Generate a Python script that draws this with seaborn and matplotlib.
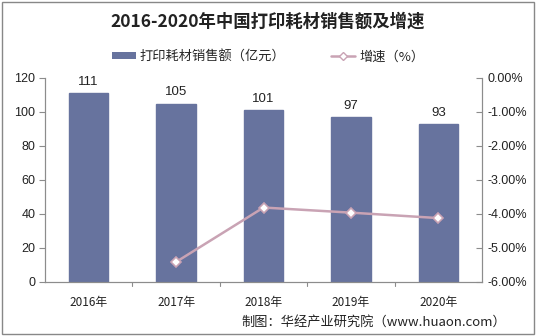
import matplotlib
matplotlib.use("Agg")
import matplotlib.pyplot as plt
import seaborn as sns
import pandas as pd
from matplotlib.lines import Line2D
from matplotlib.patches import Patch, Rectangle
from matplotlib.ticker import FuncFormatter

years = ["2016年", "2017年", "2018年", "2019年", "2020年"]
sales = [111, 105, 101, 97, 93]
growth_years = ["2017年", "2018年", "2019年", "2020年"]
growth = [-5.41, -3.81, -3.96, -4.12]

sns.set_theme(style="white")
plt.rcParams['font.family'] = ['Noto Sans CJK SC', 'DejaVu Sans']

bar_color = "#67739E"
line_color = "#C9A3B4"
axis_color = "#8C8C8C"

fig = plt.figure(figsize=(5.36, 3.36), dpi=100)
ax = fig.add_axes([45/536, 1-282/336, 437/536, 204/336])

df = pd.DataFrame({"year": years, "sales": sales})
sns.barplot(data=df, x="year", y="sales", color=bar_color, width=0.45,
            saturation=1, edgecolor=bar_color, ax=ax)
ax.set_ylim(0, 120)
ax.set_yticks(range(0, 121, 20))
ax.set_xlim(-0.5, 4.5)
ax.set_xlabel("")
ax.set_ylabel("")
for i, v in enumerate(sales):
    ax.text(i, v + 3, str(v), ha="center", va="bottom", fontsize=9.5,
            family=["Liberation Sans", "DejaVu Sans"], color="#222222")

ax2 = ax.twinx()
xpos = [years.index(y) for y in growth_years]
gdf = pd.DataFrame({"x": xpos, "g": growth})
sns.lineplot(data=gdf, x="x", y="g", color=line_color, linewidth=1.8,
             marker="D", markersize=5.5, markerfacecolor="white",
             markeredgecolor=line_color, markeredgewidth=1.2, ax=ax2)
ax2.set_ylim(-6, 0)
ax2.set_yticks([0, -1, -2, -3, -4, -5, -6])
ax2.yaxis.set_major_formatter(FuncFormatter(lambda v, p: f"{v:.2f}%"))
ax2.set_xlim(-0.5, 4.5)
ax2.set_xlabel("")
ax2.set_ylabel("")

for a in (ax, ax2):
    for s in a.spines.values():
        s.set_color(axis_color)
        s.set_linewidth(0.8)
    a.spines["top"].set_visible(False)

tick_font = ["Liberation Sans", "DejaVu Sans"]
ax.tick_params(axis="y", left=True, direction="out", length=4, width=0.8,
               color=axis_color, labelsize=9, labelcolor="#222222", pad=3)
ax.tick_params(axis="x", bottom=False, labelsize=8.5, labelcolor="#222222", pad=4)
for lab in ax.get_yticklabels():
    lab.set_family(tick_font)
for b in [0.5, 1.5, 2.5, 3.5]:
    ax.plot([b, b], [0, -2.5], color=axis_color, lw=0.8, clip_on=False)
ax2.tick_params(axis="y", right=True, direction="in", length=4, width=0.8,
                color=axis_color, labelsize=9, labelcolor="#222222", pad=4)
for lab in ax2.get_yticklabels():
    lab.set_family(tick_font)

fig.text(0.5, 1-22/336, "2016-2020年中国打印耗材销售额及增速", ha="center",
         va="center", fontsize=12.5, fontweight="bold", color="#222222")

handles = [Patch(facecolor=bar_color, edgecolor="none"),
           Line2D([0], [0], color=line_color, lw=1.8, marker="D", markersize=4.5,
                  markerfacecolor="white", markeredgecolor=line_color)]
fig.legend(handles, ["打印耗材销售额（亿元）", "增速（%）"], loc="center",
           bbox_to_anchor=(0.5, 1-57/336), ncol=2, frameon=False, fontsize=9.5,
           handlelength=1.8, handleheight=0.4, columnspacing=3.5, handletextpad=0.3)

fig.text(1-30/536, 1-322/336, "制图：华经产业研究院（www.huaon.com）", ha="right",
         va="center", fontsize=9.5, color="#222222")

fig.patches.append(Rectangle((2/536, 2/336), 1-4/536, 1-4/336, transform=fig.transFigure,
                             fill=False, edgecolor="#888888", lw=1.0))

fig.savefig("out.png", dpi=100)
